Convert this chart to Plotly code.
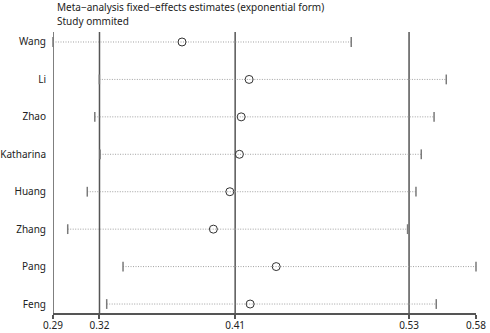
import plotly.graph_objects as go

studies = ["Wang", "Li", "Zhao", "Katharina", "Huang", "Zhang", "Pang", "Feng"]
estimate = [0.3739, 0.4195, 0.4141, 0.4129, 0.4064, 0.3952, 0.4379, 0.4202]
lower = [0.2862, 0.3177, 0.3146, 0.3182, 0.3095, 0.2962, 0.3338, 0.3227]
upper = [0.4889, 0.5535, 0.5452, 0.5365, 0.5329, 0.5272, 0.5737, 0.5467]

tick_vals = [0.2862, 0.3178, 0.41, 0.5282, 0.5737]
tick_text = ["0.29", "0.32", "0.41", "0.53", "0.58"]
ref_lines = [0.2862, 0.3178, 0.41, 0.5282]

n = len(studies)
ypos = [n - i for i in range(n)]

fig = go.Figure()
font = "Noto Sans"

for i in range(n):
    fig.add_trace(go.Scatter(
        x=[lower[i], upper[i]], y=[ypos[i], ypos[i]], mode="lines",
        line=dict(color="#a0a0a0", width=1, dash="1px,1.5px"),
        hoverinfo="skip", showlegend=False, cliponaxis=False))

fig.add_trace(go.Scatter(
    x=lower + upper, y=ypos + ypos, mode="markers",
    marker=dict(symbol="line-ns", size=7, line=dict(color="#7a7a7a", width=1.5)),
    showlegend=False, cliponaxis=False))

fig.add_trace(go.Scatter(
    x=estimate, y=ypos, mode="markers",
    marker=dict(symbol="circle-open", size=8, color="#333333", line=dict(width=1)),
    showlegend=False, cliponaxis=False))

for v in ref_lines:
    fig.add_shape(type="line", xref="x", yref="paper", x0=v, x1=v, y0=0, y1=1,
                  line=dict(color="#555555", width=1.5), layer="below")

fig.add_annotation(text="Meta\u2212analysis fixed\u2212effects estimates (exponential form)",
                   xref="paper", yref="paper", x=0.005, y=1.090, xanchor="left",
                   yanchor="middle", showarrow=False, font=dict(family=font, size=10, color="#222"))
fig.add_annotation(text="Study ommited",
                   xref="paper", yref="paper", x=0.005, y=1.040, xanchor="left",
                   yanchor="middle", showarrow=False, font=dict(family=font, size=10, color="#222"))

fig.update_layout(
    width=490, height=333,
    margin=dict(l=53, r=14.3, t=32, b=20, autoexpand=False),
    plot_bgcolor="white", paper_bgcolor="white",
    font=dict(family=font, size=10, color="#222"),
    xaxis=dict(range=[tick_vals[0], tick_vals[-1]], tickvals=tick_vals, ticktext=tick_text,
               showgrid=False, zeroline=False, showline=True, linecolor="#555555", linewidth=1.5,
               ticks="outside", ticklen=4, tickcolor="#555555", tickwidth=1.5, automargin=False,
               ticklabelstandoff=-2,
               tickfont=dict(family=font, size=10, color="#222")),
    yaxis=dict(range=[0.76, 8.267], tickvals=ypos, ticktext=studies, showgrid=False,
               zeroline=False, showline=False, ticks="", ticklabelstandoff=6, automargin=False,
               tickfont=dict(family=font, size=10, color="#222")),
)

fig.write_html("out.html", config={"displayModeBar": False},
               post_script="document.body.style.margin='0';")
